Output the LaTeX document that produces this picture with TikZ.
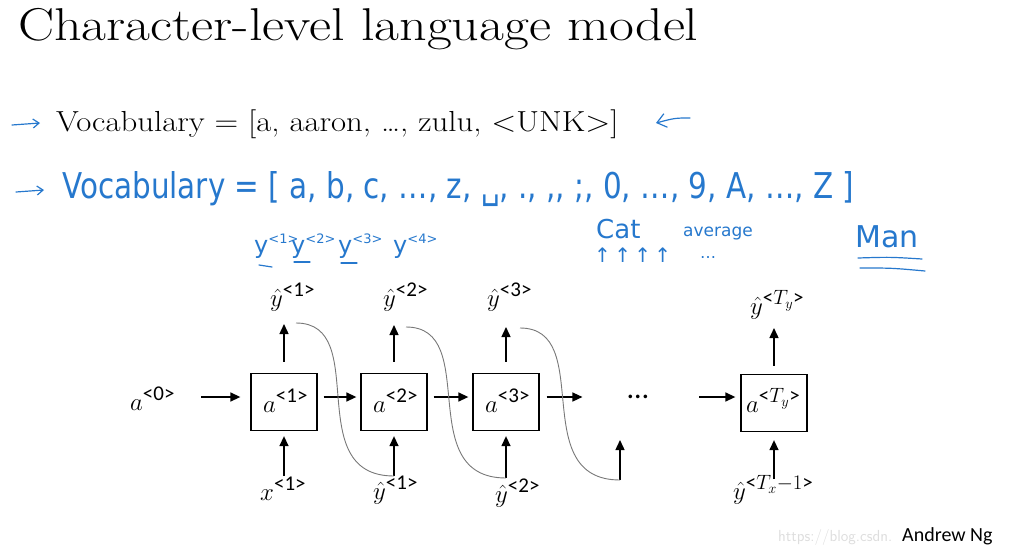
\documentclass[tikz,border=0pt]{standalone}
\usepackage{fontspec}
\usetikzlibrary{arrows.meta}
\newfontfamily\calib{Carlito}
\newfontfamily\hand{DejaVu Sans}
\definecolor{inkblue}{RGB}{38,120,205}
\definecolor{curvegray}{RGB}{120,120,120}
\newcommand\sps[1]{^{\hbox{\calib\fontsize{21}{21}\selectfont <#1>}}}
\newcommand\hsp[1]{\raisebox{10pt}{\fontsize{13}{13}\selectfont <#1>}}
\begin{document}
\begin{tikzpicture}[x=1pt,y=-1pt,
  lbl/.style={anchor=base west,inner sep=0pt,font=\fontsize{33}{33}\selectfont},
  cell/.style={draw,line width=1.3pt,minimum width=66pt,minimum height=57pt,inner sep=0pt},
  arr/.style={line width=1.4pt,-{Triangle[length=10pt,width=9pt]}},
  feed/.style={curvegray,line width=0.9pt},
  ink/.style={inkblue,line width=1.2pt,line cap=round},
  handtxt/.style={inkblue,inner sep=0pt,anchor=base west}]
\useasboundingbox (0,0) rectangle (1023,549);
% title and printed vocabulary
\node[anchor=base west,inner sep=0pt,font=\fontsize{46}{46}\selectfont] (title) at (18,40) {\scalebox{1.175}[1]{Character-level language model}};
\node[anchor=base west,inner sep=0pt,font=\fontsize{29}{29}\selectfont] (voc1) at (56,131) {\scalebox{1.13}[1]{Vocabulary = [a, aaron, …, zulu, <UNK>]}};
% handwritten annotations
\coordinate (h1a) at (12,125); \coordinate (h1b) at (40,123);
\draw[ink,-{Straight Barb[length=6pt,width=9pt]}] (h1a) -- (h1b);
\coordinate (h2a) at (690,118); \coordinate (h2b) at (656,123);
\draw[ink,-{Straight Barb[length=9pt,width=14pt]}] (h2a) .. controls (675,118) .. (h2b);
\coordinate (h3a) at (16,192); \coordinate (h3b) at (44,190);
\draw[ink,-{Straight Barb[length=6pt,width=9pt]}] (h3a) -- (h3b);
\node[handtxt] (voc2) at (62,198) {\resizebox{792pt}{27pt}{\hand\fontsize{30}{30}\selectfont Vocabulary = [ a, b, c, …, z, ␣, ., ,, ;, 0, …, 9, A, …, Z ]}};
\node[handtxt,font=\hand\fontsize{24}{24}\selectfont] (hy1) at (254,253) {y\hsp{1}};
\node[handtxt,font=\hand\fontsize{24}{24}\selectfont] (hy2) at (291,253) {y\hsp{2}};
\node[handtxt,font=\hand\fontsize{24}{24}\selectfont] (hy3) at (338,253) {y\hsp{3}};
\node[handtxt,font=\hand\fontsize{24}{24}\selectfont] (hy4) at (393,253) {y\hsp{4}};
\draw[ink] (259,265) -- (272,267);
\draw[ink] (294,262) -- (310,262);
\draw[ink] (341,263) -- (357,263);
\node[handtxt,font=\hand\fontsize{26}{26}\selectfont] (cat) at (596,238) {Cat};
\node[handtxt,font=\hand\fontsize{17}{17}\selectfont] (avg) at (683,236) {average};
\node[handtxt,font=\hand\fontsize{20}{20}\selectfont] (ups) at (594,262) {↑\,↑\,↑\,↑};
\node[handtxt,font=\hand\fontsize{16}{16}\selectfont] (dts) at (700,258) {…};
\node[handtxt,font=\hand\fontsize{30}{30}\selectfont] (man) at (855,247) {Man};
\draw[ink] (858,258) .. controls (890,257) .. (922,259);
\draw[ink] (860,268) .. controls (892,268) .. (925,271);
% RNN cells
\node[cell] (b1) at (284,402) {};
\node[cell] (b2) at (394,402) {};
\node[cell] (b3) at (506,402) {};
\node[cell] (b4) at (774,403) {};
\node[lbl] (ia1) at (263,412) {$a\sps{1}$};
\node[lbl] (ia2) at (373,412) {$a\sps{2}$};
\node[lbl] (ia3) at (485,412) {$a\sps{3}$};
\node[lbl] (ia4) at (746,412) {$a\sps{$T_y$}$};
\node[lbl] (a0) at (130,410) {$a\sps{0}$};
\node[inner sep=0pt,font=\calib\fontsize{30}{30}\selectfont] (dots) at (638,397) {…};
% outputs
\node[lbl] (o1) at (270,306) {$\hat{y}\sps{1}$};
\node[lbl] (o2) at (383,306) {$\hat{y}\sps{2}$};
\node[lbl] (o3) at (487,306) {$\hat{y}\sps{3}$};
\node[lbl] (o4) at (750,314) {$\hat{y}\sps{$T_y$}$};
% inputs
\node[lbl] (x1) at (260,500) {$x\sps{1}$};
\node[lbl] (i2) at (373,499) {$\hat{y}\sps{1}$};
\node[lbl] (i3) at (495,502) {$\hat{y}\sps{2}$};
\node[lbl] (i4) at (733,499) {$\hat{y}\sps{$T_x{-}1$}$};
% connector ends
\coordinate (f1) at (284,476);
\coordinate (f2) at (394,476);
\coordinate (f3) at (506,478);
\coordinate (fd) at (620,480);
\coordinate (f4) at (774,479);
\coordinate (t1) at (284,324);
\coordinate (t2) at (394,325);
\coordinate (t3) at (506,327);
\coordinate (td) at (620,440);
\coordinate (t4) at (774,328);
\coordinate (s1) at (296,323);
\coordinate (s2) at (406,327);
\coordinate (s3) at (520,328);
% horizontal arrows
\draw[arr,shorten <=26pt,shorten >=10pt] (a0.east |- dots) -- (b1.west |- dots);
\draw[arr,shorten <=6pt,shorten >=4pt] (b1.east |- dots) -- (b2.west |- dots);
\draw[arr,shorten <=6pt,shorten >=4pt] (b2.east |- dots) -- (b3.west |- dots);
\draw[arr,shorten <=7pt,shorten >=45pt] (b3.east |- dots) -- (dots.west);
\draw[arr,shorten <=72pt,shorten >=5pt] (dots.west) -- (b4.west |- dots);
% vertical arrows
\draw[arr,shorten <=11pt] (b1.north) -- (t1);
\draw[arr,shorten <=11pt] (b2.north) -- (t2);
\draw[arr,shorten <=11pt] (b3.north) -- (t3);
\draw[arr,shorten <=8pt] (b4.north) -- (t4);
\draw[arr,shorten >=5pt] (f1) -- (b1.south);
\draw[arr,shorten >=5pt] (f2) -- (b2.south);
\draw[arr,shorten >=5pt] (f3) -- (b3.south);
\draw[arr] (fd) -- (td);
\draw[arr,shorten >=8pt] (f4) -- (b4.south);
% feedback curves
\draw[feed] (s1) .. controls (372,323) and (300,476) .. (f2);
\draw[feed] (s2) .. controls (482,327) and (412,478) .. (f3);
\draw[feed] (s3) .. controls (596,328) and (526,480) .. (fd);
% footer
\node[anchor=base west,inner sep=0pt,text=black!13,font=\fontsize{16}{16}\sffamily] (wm) at (778,541) {https://blog.csdn.};
\node[anchor=base west,inner sep=0pt,font=\calib\fontsize{20}{20}\selectfont] (ng) at (902,541) {Andrew Ng};
\end{tikzpicture}
\end{document}
